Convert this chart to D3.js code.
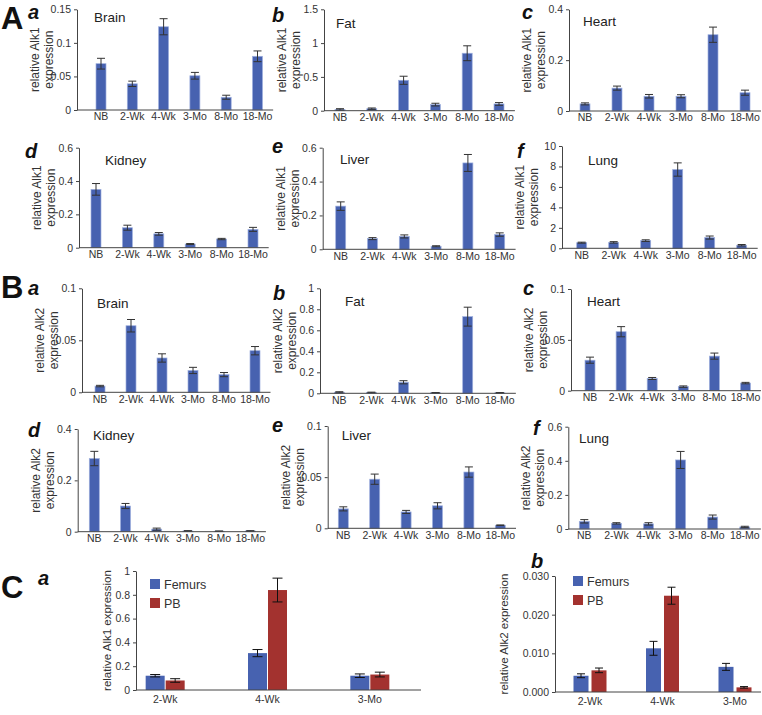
<!DOCTYPE html>
<html><head><meta charset="utf-8">
<script src="https://cdn.jsdelivr.net/npm/d3@7"></script>
<style>
body{margin:0;background:#fff}
svg{display:block}
text{font-family:"Liberation Sans",Arial,Helvetica,sans-serif}
</style>
</head><body>
<svg id="fig" width="762" height="715"></svg>
<script>
// ---------------- DATA ----------------
const ages = ["NB","2-Wk","4-Wk","3-Mo","8-Mo","18-Mo"];
const tissues = ["Brain","Fat","Heart","Kidney","Liver","Lung"];

const alk1Brain   = [0.069,0.039,0.124,0.051,0.019,0.080];
const alk1BrainErr= [0.008,0.004,0.012,0.005,0.003,0.008];
const alk1Fat     = [0.02,0.03,0.45,0.09,0.85,0.10];
const alk1FatErr  = [0.01,0.01,0.06,0.02,0.11,0.02];
const alk1Heart   = [0.028,0.090,0.058,0.058,0.300,0.072];
const alk1HeartErr= [0.004,0.008,0.007,0.006,0.030,0.010];
const alk1Kidney  = [0.350,0.120,0.083,0.022,0.052,0.110];
const alk1KidneyErr=[0.035,0.015,0.008,0.003,0.004,0.012];
const alk1Liver   = [0.255,0.063,0.076,0.018,0.510,0.087];
const alk1LiverErr= [0.025,0.006,0.009,0.003,0.050,0.010];
const alk1Lung    = [0.55,0.58,0.75,7.7,1.05,0.30];
const alk1LungErr = [0.05,0.07,0.08,0.65,0.15,0.07];

const alk2Brain   = [0.006,0.064,0.033,0.021,0.017,0.040];
const alk2BrainErr= [0.0007,0.006,0.004,0.003,0.002,0.004];
const alk2Fat     = [0.010,0.008,0.105,0.005,0.730,0.005];
const alk2FatErr  = [0.005,0.003,0.015,0.002,0.090,0.002];
const alk2Heart   = [0.030,0.058,0.012,0.004,0.034,0.0075];
const alk2HeartErr= [0.003,0.005,0.001,0.0007,0.003,0.0007];
const alk2Kidney  = [0.285,0.100,0.010,0.003,0.002,0.003];
const alk2KidneyErr=[0.028,0.010,0.004,0.001,0.001,0.001];
const alk2Liver   = [0.019,0.048,0.016,0.022,0.055,0.003];
const alk2LiverErr= [0.002,0.005,0.0015,0.003,0.005,0.0003];
const alk2Lung    = [0.045,0.033,0.030,0.405,0.070,0.012];
const alk2LungErr = [0.010,0.004,0.007,0.050,0.012,0.004];

const alk1Ticks = [[0,0.05,0.1,0.15],[0,0.5,1,1.5],[0,0.2,0.4],[0,0.2,0.4,0.6],[0,0.2,0.4,0.6],[0,2,4,6,8,10]];
const alk2Ticks = [[0,0.05,0.1],[0,0.2,0.4,0.6,0.8,1],[0,0.05,0.1],[0,0.2,0.4],[0,0.05,0.1],[0,0.2,0.4,0.6]];

const boneAges = ["2-Wk","4-Wk","3-Mo"];
const boneSeries = ["Femurs","PB"];
const alk1Femurs = [0.12,0.31,0.12];
const alk1FemursErr = [0.01,0.03,0.015];
const alk1PB = [0.08,0.84,0.13];
const alk1PBErr = [0.015,0.10,0.02];
const alk2Femurs = [0.0042,0.0113,0.0065];
const alk2FemursErr = [0.0005,0.0018,0.0009];
const alk2PB = [0.0056,0.0249,0.0012];
const alk2PBErr = [0.0006,0.0022,0.0002];
const boneAlk1Ticks = [0,0.2,0.4,0.6,0.8,1];
const boneAlk2Ticks = [0,0.01,0.02,0.03];

// ---------------- STYLE / LAYOUT ----------------
const BLUE = "#4762b0", RED = "#a3322f", AXIS = "#444", TXT = "#333";
const svg = d3.select("#fig");

const agePanels = [
  {gene:"Alk1", vals:alk1Brain, errs:alk1BrainErr, ticks:alk1Ticks[0], name:tissues[0], letter:"a", ax:77, top:9.3, bot:110, first:101, step:31.3, tx:94, ty:22, lx:28, ly:19},
  {gene:"Alk1", vals:alk1Fat, errs:alk1FatErr, ticks:alk1Ticks[1], name:tissues[1], letter:"b", ax:324, top:9.3, bot:110.7, first:340, step:31.8, tx:336, ty:28, lx:272, ly:22},
  {gene:"Alk1", vals:alk1Heart, errs:alk1HeartErr, ticks:alk1Ticks[2], name:tissues[2], letter:"c", ax:569, top:9.3, bot:111, first:585, step:32, tx:583, ty:26, lx:522, ly:19},
  {gene:"Alk1", vals:alk1Kidney, errs:alk1KidneyErr, ticks:alk1Ticks[3], name:tissues[3], letter:"d", ax:79, top:147.7, bot:247.7, first:96, step:31.4, tx:105, ty:165, lx:25, ly:158},
  {gene:"Alk1", vals:alk1Liver, errs:alk1LiverErr, ticks:alk1Ticks[4], name:tissues[4], letter:"e", ax:322.7, top:147.7, bot:249.3, first:340.7, step:31.8, tx:340, ty:164, lx:272, ly:153},
  {gene:"Alk1", vals:alk1Lung, errs:alk1LungErr, ticks:alk1Ticks[5], name:tissues[5], letter:"f", ax:562, top:146, bot:248.3, first:581.7, step:32, tx:588, ty:165, lx:517, ly:158},
  {gene:"Alk2", vals:alk2Brain, errs:alk2BrainErr, ticks:alk2Ticks[0], name:tissues[0], letter:"a", ax:82, top:288.3, bot:392.3, first:100, step:31, tx:97, ty:308, lx:28, ly:295},
  {gene:"Alk2", vals:alk2Fat, errs:alk2FatErr, ticks:alk2Ticks[1], name:tissues[1], letter:"b", ax:320, top:288.3, bot:393.3, first:339.3, step:32.1, tx:345, ty:306, lx:273, ly:300},
  {gene:"Alk2", vals:alk2Heart, errs:alk2HeartErr, ticks:alk2Ticks[2], name:tissues[2], letter:"c", ax:571, top:289, bot:390.7, first:590, step:31.1, tx:587, ty:306, lx:523, ly:295},
  {gene:"Alk2", vals:alk2Kidney, errs:alk2KidneyErr, ticks:alk2Ticks[3], name:tissues[3], letter:"d", ax:77.7, top:429, bot:531.7, first:94.3, step:31.2, tx:93, ty:440, lx:28, ly:437},
  {gene:"Alk2", vals:alk2Liver, errs:alk2LiverErr, ticks:alk2Ticks[4], name:tissues[4], letter:"e", ax:327.7, top:426, bot:528.3, first:343.3, step:31.4, tx:341.7, ty:440, lx:272, ly:432},
  {gene:"Alk2", vals:alk2Lung, errs:alk2LungErr, ticks:alk2Ticks[5], name:tissues[5], letter:"f", ax:568.3, top:426.7, bot:529, first:584.3, step:32.1, tx:579, ty:443, lx:533, ly:435}
];

function styleYAxis(g){
  g.select(".domain").attr("stroke", AXIS).attr("stroke-width",1);
  g.selectAll(".tick line").attr("stroke", AXIS);
  g.selectAll(".tick text").attr("fill", TXT).attr("font-size", 10.5)
    .attr("font-family","'Liberation Sans',Arial,sans-serif");
}

function drawAgePanel(p){
  const g = svg.append("g");
  const ymax = p.ticks[p.ticks.length-1];
  const y = d3.scaleLinear().domain([0, ymax]).range([p.bot, p.top]);
  const x = d3.scaleBand().domain(ages).range([p.first - p.step/2, p.first + p.step*5.5]).padding(0);
  const bw = 10;
  const xEnd = p.first + p.step*5.5;

  const ya = g.append("g").attr("transform",`translate(${p.ax},0)`)
    .call(d3.axisLeft(y).tickValues(p.ticks).tickSize(3).tickSizeOuter(0).tickPadding(3).tickFormat(d=>String(d)));
  styleYAxis(ya);

  g.selectAll("rect.bar").data(p.vals).join("rect")
    .attr("x",(d,i)=>x(ages[i]) + x.bandwidth()/2 - bw/2)
    .attr("y",d=>y(d)).attr("width",bw).attr("height",d=>p.bot - y(d))
    .attr("fill",BLUE).attr("stroke","#9fb0de").attr("stroke-width",0.7);

  const eb = g.selectAll("g.eb").data(p.vals).join("g");
  eb.each(function(d,i){
    const cx = x(ages[i]) + x.bandwidth()/2;
    const e = p.errs[i];
    const s = d3.select(this);
    const y1 = y(d+e), y2 = y(Math.max(0,d-e));
    s.append("line").attr("x1",cx).attr("x2",cx).attr("y1",y1).attr("y2",y2).attr("stroke","#333").attr("stroke-width",1);
    s.append("line").attr("x1",cx-4).attr("x2",cx+4).attr("y1",y1).attr("y2",y1).attr("stroke","#333").attr("stroke-width",1);
    s.append("line").attr("x1",cx-4).attr("x2",cx+4).attr("y1",y2).attr("y2",y2).attr("stroke","#333").attr("stroke-width",1);
  });

  g.append("line").attr("x1",p.ax).attr("x2",Math.min(xEnd,761)).attr("y1",p.bot).attr("y2",p.bot)
    .attr("stroke",AXIS).attr("stroke-width",1);
  const xa = g.append("g").attr("transform",`translate(0,${p.bot})`)
    .call(d3.axisBottom(x).tickSize(0).tickPadding(3));
  xa.select(".domain").remove();
  xa.selectAll(".tick text").attr("fill",TXT).attr("font-size",10.5)
    .attr("font-family","'Liberation Sans',Arial,sans-serif");

  const cy = (p.top + p.bot)/2;
  g.append("text").attr("transform",`translate(${p.ax-38},${cy}) rotate(-90)`)
    .attr("text-anchor","middle").attr("font-size",12).attr("fill",TXT).text(`relative ${p.gene}`);
  g.append("text").attr("transform",`translate(${p.ax-24},${cy}) rotate(-90)`)
    .attr("text-anchor","middle").attr("font-size",12).attr("fill",TXT).text("expression");

  g.append("text").attr("x",p.tx).attr("y",p.ty).attr("font-size",13.5).attr("fill","#222").text(p.name);
  g.append("text").attr("x",p.lx).attr("y",p.ly).attr("font-size",20).attr("font-weight","bold")
    .attr("font-style","italic").attr("fill","#111").text(p.letter);
}
agePanels.forEach(drawAgePanel);

[["A",1,29],["B",1,298],["C",1,598]].forEach(([t,x,yy])=>{
  svg.append("text").attr("x",x).attr("y",yy).attr("font-size",31).attr("font-weight","bold").attr("fill","#111").text(t);
});

// ---------------- Panel C ----------------
const bonePanels = [
  {gene:"Alk1", fem:alk1Femurs, femE:alk1FemursErr, pb:alk1PB, pbE:alk1PBErr, ticks:boneAlk1Ticks, fmt:d=>String(d),
   letter:"a", lx:38, ly:585, ax:136, top:571, bot:690, r0:114, r1:421, xEnd:421, bw:19, gap:1, cap:5,
   labX:111, legX:150, legY:579},
  {gene:"Alk2", fem:alk2Femurs, femE:alk2FemursErr, pb:alk2PB, pbE:alk2PBErr, ticks:boneAlk2Ticks, fmt:d=>d.toFixed(3),
   letter:"b", lx:531, ly:568, ax:555, top:576, bot:692, r0:553.75, r1:771.25, xEnd:761, bw:15, gap:3, cap:4,
   labX:508, legX:573, legY:576}
];

function drawBonePanel(p){
  const g = svg.append("g");
  const ymax = p.ticks[p.ticks.length-1];
  const y = d3.scaleLinear().domain([0,ymax]).range([p.bot,p.top]);
  const x = d3.scaleBand().domain(boneAges).range([p.r0,p.r1]).padding(0);
  const inner = d3.scaleBand().domain(boneSeries).range([-(p.bw + p.gap/2), p.bw + p.gap/2]).paddingInner(p.gap/(p.bw+p.gap));

  const ya = g.append("g").attr("transform",`translate(${p.ax},0)`)
    .call(d3.axisLeft(y).tickValues(p.ticks).tickSize(3).tickSizeOuter(0).tickPadding(3).tickFormat(p.fmt));
  styleYAxis(ya);

  const series = [[p.fem,p.femE,BLUE],[p.pb,p.pbE,RED]];
  series.forEach(([vals,errs,col],si)=>{
    vals.forEach((d,i)=>{
      const bx = x(boneAges[i]) + x.bandwidth()/2 + inner(boneSeries[si]);
      g.append("rect").attr("x",bx).attr("y",y(d)).attr("width",inner.bandwidth()).attr("height",p.bot-y(d))
        .attr("fill",col);
      const cx = bx + inner.bandwidth()/2;
      const y1 = y(d+errs[i]), y2 = y(Math.max(0,d-errs[i]));
      g.append("line").attr("x1",cx).attr("x2",cx).attr("y1",y1).attr("y2",y2).attr("stroke","#111");
      g.append("line").attr("x1",cx-p.cap).attr("x2",cx+p.cap).attr("y1",y1).attr("y2",y1).attr("stroke","#111");
      g.append("line").attr("x1",cx-p.cap).attr("x2",cx+p.cap).attr("y1",y2).attr("y2",y2).attr("stroke","#111");
    });
  });

  g.append("line").attr("x1",p.ax).attr("x2",p.xEnd).attr("y1",p.bot).attr("y2",p.bot).attr("stroke",AXIS);
  const xa = g.append("g").attr("transform",`translate(0,${p.bot})`)
    .call(d3.axisBottom(x).tickSize(0).tickPadding(6));
  xa.select(".domain").remove();
  xa.selectAll(".tick text").attr("fill",TXT).attr("font-size",10.5)
    .attr("font-family","'Liberation Sans',Arial,sans-serif");

  g.append("text").attr("transform",`translate(${p.labX},${(p.top+p.bot)/2}) rotate(-90)`)
    .attr("text-anchor","middle").attr("font-size",11.5).attr("fill",TXT).text(`relative ${p.gene} expression`);

  g.append("text").attr("x",p.lx).attr("y",p.ly).attr("font-size",20).attr("font-weight","bold")
    .attr("font-style","italic").attr("fill","#111").text(p.letter);

  boneSeries.forEach((s,si)=>{
    g.append("rect").attr("x",p.legX).attr("y",p.legY + si*19).attr("width",10).attr("height",10)
      .attr("fill", si===0?BLUE:RED);
    g.append("text").attr("x",p.legX+14).attr("y",p.legY + si*19 + 9.5).attr("font-size",12.5).attr("fill",TXT).text(s);
  });
}
bonePanels.forEach(drawBonePanel);
</script>
</body></html>
